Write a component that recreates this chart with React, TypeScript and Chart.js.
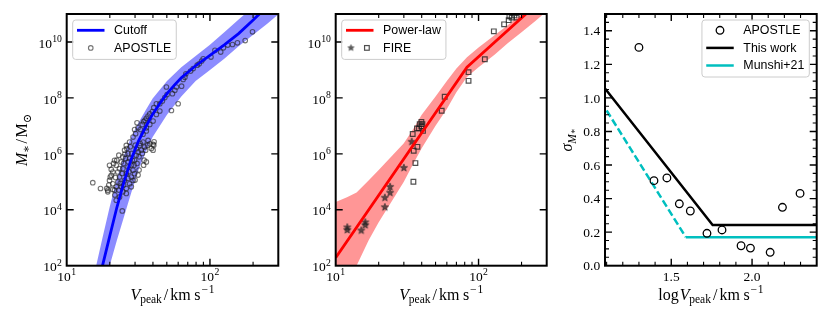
import React, { useEffect, useRef } from "react";
import { Chart, registerables } from "chart.js";

Chart.register(...registerables);

const W = 830;
const H = 323;
const SERIF = '"Liberation Serif", "DejaVu Serif", serif';
const SANS = '"Liberation Sans", "DejaVu Sans", sans-serif';

// ---------------- Panel 1 data (log10 values) ----------------
const cutoffLogV = [1.25, 1.3, 1.35, 1.4, 1.45, 1.5, 1.55, 1.6, 1.65, 1.7, 1.75, 1.8, 1.9, 2.0, 2.1, 2.2, 2.3, 2.4, 2.48];
const cutoffLogM = [2.0, 3.05, 4.08, 5.0, 5.8, 6.45, 6.95, 7.42, 7.8, 8.15, 8.45, 8.72, 9.15, 9.52, 9.9, 10.3, 10.78, 11.27, 11.65];

const cutoffBandLogV = [1.2, 1.21, 1.25, 1.3, 1.35, 1.4, 1.45, 1.5, 1.55, 1.6, 1.7, 1.8, 1.9, 2.0, 2.1, 2.2, 2.3, 2.4, 2.48];
const cutoffBandUpper = [1.85, 2.1, 3.0, 4.1, 5.1, 5.95, 6.6, 7.1, 7.55, 7.98, 8.6, 9.1, 9.5, 9.9, 10.35, 10.8, 11.25, 11.7, 12.05];
const cutoffBandLower = [0.0, 0.2, 0.9, 2.0, 2.9, 3.75, 4.6, 5.4, 6.05, 6.6, 7.4, 8.05, 8.6, 9.0, 9.4, 9.85, 10.25, 10.65, 11.0];

const apostleLogV = [
  2.297, 2.246, 2.192, 2.157, 2.124, 2.094, 2.075, 2.035, 2.007, 1.953, 1.942, 1.925, 1.911, 1.883, 1.865, 1.832, 1.825,
  1.813, 1.802, 1.766, 1.755, 1.738, 1.696, 1.701, 1.685, 1.668, 1.65, 1.626, 1.608, 1.598, 1.58, 1.568, 1.556, 1.547,
  1.537, 1.528, 1.778, 1.731, 1.491, 1.498, 1.474, 1.481, 1.463, 1.514, 1.556, 1.58, 1.626, 1.65, 1.603, 1.556, 1.533,
  1.182, 1.236, 1.287, 1.299, 1.299, 1.334, 1.346, 1.311, 1.322, 1.334, 1.346, 1.357, 1.369, 1.357, 1.369, 1.381, 1.392,
  1.404, 1.416, 1.428, 1.439, 1.451, 1.463, 1.451, 1.439, 1.416, 1.392, 1.369, 1.346, 1.388, 1.486, 1.509, 1.533, 1.556,
  1.58, 1.603, 1.474, 1.486, 1.498, 1.416, 1.392, 1.428, 1.404, 1.381, 1.463, 1.474, 1.521, 1.544, 1.568, 1.439, 1.411,
  1.322, 1.287, 1.304, 1.311, 1.327, 1.341, 1.35, 1.364, 1.374, 1.388, 1.397, 1.406, 1.42, 1.43, 1.435, 1.444, 1.453,
  1.458, 1.47, 1.479, 1.491, 1.505, 1.514, 1.528, 1.54, 1.551, 1.565, 1.591, 1.61, 1.537, 1.505, 1.477, 1.428, 1.397,
  1.364, 1.336, 1.322, 1.294, 1.28, 1.603, 1.608, 1.498, 1.451, 1.416,
];
const apostleLogM = [
  10.363, 10.05, 9.97, 9.91, 9.89, 9.79, 9.64, 9.7, 9.46, 9.4, 9.32, 9.22, 9.17, 9.05, 8.96, 8.86, 8.74,
  8.66, 8.42, 8.39, 8.27, 8.15, 8.39, 8.12, 8.01, 7.89, 7.79, 7.79, 7.65, 7.51, 7.43, 7.35, 7.27, 7.2,
  7.15, 7.05, 7.79, 7.55, 7.11, 6.93, 6.87, 6.72, 6.6, 6.87, 6.93, 7.05, 7.41, 7.53, 7.17, 6.82, 6.7,
  4.97, 4.76, 4.64, 5.05, 5.59, 5.77, 5.59, 5.23, 4.93, 4.7, 4.82, 4.99, 5.17, 5.35, 5.47, 5.71, 5.89,
  6.13, 6.3, 6.01, 5.83, 5.59, 5.41, 5.17, 4.93, 4.76, 4.64, 4.46, 4.34, 3.96, 6.18, 6.3, 6.42, 5.71,
  6.36, 6.34, 5.77, 5.95, 6.07, 5.29, 5.47, 5.53, 5.05, 4.82, 5.05, 5.29, 6.13, 6.24, 6.48, 6.42, 5.83,
  5.35, 4.7, 5.17, 5.441, 5.656, 5.156, 5.775, 5.953, 4.941, 5.298, 5.656, 5.989, 6.191, 5.715, 5.358, 6.251, 6.013,
  5.775, 5.596, 6.31, 5.656, 5.894, 6.37, 6.013, 5.775, 6.132, 6.31, 6.191, 6.429, 5.596, 5.418, 5.06, 5.12, 4.882,
  4.703, 4.525, 4.727, 4.882, 4.763, 6.132, 6.31, 5.239, 4.822, 4.584,
];

// ---------------- Panel 2 data (log10 values) ----------------
const powerLawLogV = [1.0, 1.919, 2.477];
const powerLawLogM = [2.29, 9.1, 11.67];

const plBandLogV = [1.0, 1.079, 1.146, 1.23, 1.301, 1.398, 1.477, 1.544, 1.602, 1.699, 1.778, 1.845, 1.919, 2.0, 2.114, 2.204, 2.301, 2.398, 2.477];
const plBandUpper = [4.28, 4.45, 4.62, 5.05, 5.42, 5.95, 6.38, 6.9, 7.4, 8.05, 8.6, 9.05, 9.45, 9.8, 10.25, 10.6, 11.0, 11.4, 11.8];
const plBandLower = [0.8, 1.4, 2.0, 2.9, 3.55, 4.35, 5.0, 5.65, 6.2, 7.0, 7.6, 8.2, 8.75, 9.1, 9.55, 9.95, 10.35, 10.75, 11.1];

const fireStarLogV = [1.081, 1.081, 1.179, 1.207, 1.207, 1.344, 1.344, 1.381, 1.381, 1.477, 1.532];
const fireStarLogM = [3.37, 3.275, 3.26, 3.55, 3.45, 4.09, 4.43, 4.61, 4.82, 5.5, 6.43];

const fireSquareLogV = [
  1.546, 1.572, 1.539, 1.583, 1.6, 1.588, 1.607, 1.611, 1.569, 1.6, 1.558, 1.544, 1.742, 1.763, 1.93, 1.93, 2.044,
  2.107, 2.179, 2.211, 2.216, 2.232, 2.267, 2.251,
];
const fireSquareLogM = [
  6.11, 6.25, 6.71, 6.91, 6.99, 7.06, 7.06, 6.82, 6.91, 7.14, 5.67, 5.0, 7.54, 8.04, 8.92, 8.61, 9.38,
  10.38, 10.63, 10.78, 10.92, 10.87, 10.87, 10.95,
];

// ---------------- Panel 3 data ----------------
const sigmaLogV = [1.3, 1.393, 1.473, 1.55, 1.618, 1.721, 1.814, 1.932, 1.99, 2.112, 2.188, 2.297];
const sigmaApostle = [1.301, 0.507, 0.523, 0.369, 0.326, 0.193, 0.213, 0.119, 0.105, 0.08, 0.348, 0.431];
const thisWorkX = [1.09, 1.756, 2.4];
const thisWorkY = [1.056, 0.2425, 0.2425];
const munshiDashX = [1.1, 1.59];
const munshiDashY = [0.925, 0.17];
const munshiFlatX = [1.59, 2.4];
const munshiFlatY = [0.17, 0.17];

// ---------------- Ticks ----------------
const logXMajor = [10, 100];
const logXMinor = [20, 30, 40, 50, 60, 70, 80, 90, 200];
const logYMajor = [1e2, 1e4, 1e6, 1e8, 1e10];
const sigXMajor = [1.5, 2.0];
const sigXMinor = [1.1, 1.2, 1.3, 1.4, 1.6, 1.7, 1.8, 1.9, 2.1, 2.2, 2.3, 2.4];
const sigYMajor = [0, 0.2, 0.4, 0.6, 0.8, 1.0, 1.2, 1.4];
const sigYMinor = [0.05, 0.1, 0.15, 0.25, 0.3, 0.35, 0.45, 0.5, 0.55, 0.65, 0.7, 0.75, 0.85, 0.9, 0.95, 1.05, 1.1, 1.15, 1.25, 1.3, 1.35, 1.45];

// ---------------- helpers ----------------
type Seg = { t: string; it?: boolean; s?: number; dy?: number; dx?: number; fam?: string };

const pts = (xs: number[], ys: number[], logX: boolean, logY: boolean) =>
  xs.map((x, i) => ({ x: logX ? Math.pow(10, x) : x, y: logY ? Math.pow(10, ys[i]) : ys[i] }));

function segFont(g: Seg, size: number) {
  return `${g.it ? "italic " : ""}${(size * (g.s ?? 1)).toFixed(2)}px ${g.fam ?? SERIF}`;
}
function richWidth(ctx: CanvasRenderingContext2D, segs: Seg[], size: number) {
  let w = 0;
  for (const g of segs) {
    ctx.font = segFont(g, size);
    w += (g.dx ?? 0) + ctx.measureText(g.t).width;
  }
  return w;
}
function drawRich(ctx: CanvasRenderingContext2D, segs: Seg[], x: number, y: number, size: number, align: string) {
  const w = richWidth(ctx, segs, size);
  let cx = align === "center" ? x - w / 2 : align === "right" ? x - w : x;
  ctx.textAlign = "left";
  ctx.textBaseline = "alphabetic";
  for (const g of segs) {
    ctx.font = segFont(g, size);
    cx += g.dx ?? 0;
    ctx.fillText(g.t, cx, y + (g.dy ?? 0) * size);
    cx += ctx.measureText(g.t).width;
  }
}

const logLabel = (v: number): Seg[] => [{ t: "10" }, { t: String(Math.round(Math.log10(v))), s: 0.72, dy: -0.4, dx: 0.3 }];
const linLabel = (v: number): Seg[] => [{ t: v.toFixed(1) }];

const vpeakSegs: Seg[] = [
  { t: "V", it: true },
  { t: "peak", s: 0.72, dy: 0.22, dx: -0.2 },
  { t: "/", dx: 2 },
  { t: "km", dx: 2 },
  { t: "s", dx: 3.6 },
  { t: "−", s: 0.72, dy: -0.42, dx: 0.8 },
  { t: "1", s: 0.72, dy: -0.42, dx: 0.8 },
];
const xTitle12: Seg[] = vpeakSegs;
const xTitle3: Seg[] = [{ t: "log" }, ...vpeakSegs.map((g, i) => (i === 0 ? { ...g, dx: 1 } : g))];
const yTitle1: Seg[] = [
  { t: "M", it: true },
  { t: "∗", s: 0.72, dy: 0.2 },
  { t: "/", dx: 1.5 },
  { t: "M", dx: 1.5 },
  { t: "⊙", s: 0.72, dy: 0.22 },
];
const yTitle3: Seg[] = [
  { t: "σ", it: true },
  { t: "M", it: true, s: 0.72, dy: 0.22 },
  { t: "∗", s: 0.55, dy: 0.28 },
];

function starImage(size: number, R: number, color: string) {
  const c = document.createElement("canvas");
  c.width = size;
  c.height = size;
  const g = c.getContext("2d")!;
  const cx = size / 2;
  const cy = size / 2;
  const r = R * 0.42;
  g.beginPath();
  for (let i = 0; i < 10; i++) {
    const ang = -Math.PI / 2 + (i * Math.PI) / 5;
    const rad = i % 2 === 0 ? R : r;
    g.lineTo(cx + rad * Math.cos(ang), cy + rad * Math.sin(ang));
  }
  g.closePath();
  g.fillStyle = color;
  g.fill();
  g.strokeStyle = color;
  g.lineWidth = 0.8;
  g.stroke();
  return c;
}

const APOSTLE_EDGE = "rgba(30,30,30,0.62)";
const FIRE_EDGE = "rgba(30,30,30,0.78)";
const STAR_COLOR = "rgba(35,35,35,0.72)";

type Marker = { kind: string; f: number; r: number; color: string; lw: number; img?: HTMLCanvasElement };
type LegendRow = { label: string; line?: { color: string; width: number; dash?: number[] }; markers?: Marker[] };
type Legend = { side: string; rows: LegendRow[] };

function drawLegend(ctx: CanvasRenderingContext2D, a: any, lg: Legend) {
  const fontSize = 12.4;
  ctx.font = `${fontSize}px ${SANS}`;
  let tw = 0;
  for (const r of lg.rows) tw = Math.max(tw, ctx.measureText(r.label).width);
  const padL = 4.3;
  const handle = 27.5;
  const gap = 9.6;
  const padR = 5;
  const bw = padL + handle + gap + tw + padR;
  const rowStep = 17.6;
  const bh = 10.3 + (lg.rows.length - 1) * rowStep + 11.5;
  const top = a.top + 6;
  const left = lg.side === "left" ? a.left + 6 : a.right - 7.4 - bw;
  const rad = 3;
  ctx.beginPath();
  ctx.moveTo(left + rad, top);
  ctx.lineTo(left + bw - rad, top);
  ctx.arcTo(left + bw, top, left + bw, top + rad, rad);
  ctx.lineTo(left + bw, top + bh - rad);
  ctx.arcTo(left + bw, top + bh, left + bw - rad, top + bh, rad);
  ctx.lineTo(left + rad, top + bh);
  ctx.arcTo(left, top + bh, left, top + bh - rad, rad);
  ctx.lineTo(left, top + rad);
  ctx.arcTo(left, top, left + rad, top, rad);
  ctx.closePath();
  ctx.fillStyle = "rgba(255,255,255,0.8)";
  ctx.fill();
  ctx.strokeStyle = "#cccccc";
  ctx.lineWidth = 1;
  ctx.stroke();

  lg.rows.forEach((row, i) => {
    const y = top + 10.3 + i * rowStep;
    const hx = left + padL;
    if (row.line) {
      ctx.save();
      ctx.strokeStyle = row.line.color;
      ctx.lineWidth = row.line.width;
      ctx.setLineDash(row.line.dash ?? []);
      ctx.beginPath();
      ctx.moveTo(hx, y);
      ctx.lineTo(hx + handle, y);
      ctx.stroke();
      ctx.restore();
    }
    for (const m of row.markers ?? []) {
      const mx = hx + m.f * handle;
      ctx.save();
      ctx.strokeStyle = m.color;
      ctx.lineWidth = m.lw;
      if (m.kind === "circle") {
        ctx.beginPath();
        ctx.arc(mx, y, m.r, 0, Math.PI * 2);
        ctx.stroke();
      } else if (m.kind === "rect") {
        const s = m.r * Math.SQRT1_2;
        ctx.strokeRect(mx - s, y - s, 2 * s, 2 * s);
      } else if (m.kind === "star" && m.img) {
        ctx.drawImage(m.img, mx - m.img.width / 2, y - m.img.height / 2);
      }
      ctx.restore();
    }
    ctx.fillStyle = "#000";
    ctx.font = `${fontSize}px ${SANS}`;
    ctx.textAlign = "left";
    ctx.textBaseline = "middle";
    ctx.fillText(row.label, hx + handle + gap, y + 0.5);
  });
}

type Decor = {
  xMajor: number[];
  xMinor: number[];
  yMajor: number[];
  yMinor: number[];
  label: (v: number) => Seg[];
  yLabelDy: number;
  xTitle: Seg[];
  yTitle: Seg[];
  yTitleX: number;
  legend: Legend;
};

const TITLE_SIZE = 16;

function decorPlugin(d: Decor) {
  return {
    id: "decor",
    afterDraw(chart: any) {
      const ctx: CanvasRenderingContext2D = chart.ctx;
      const a = chart.chartArea;
      const xs = chart.scales.x;
      const ys = chart.scales.y;
      ctx.save();
      ctx.strokeStyle = "#000";
      ctx.lineCap = "butt";
      const vt = (v: number, len: number, lw: number) => {
        const p = xs.getPixelForValue(v);
        if (p < a.left + 0.5 || p > a.right - 0.5) return;
        ctx.lineWidth = lw;
        ctx.beginPath();
        ctx.moveTo(p, a.bottom);
        ctx.lineTo(p, a.bottom - len);
        ctx.moveTo(p, a.top);
        ctx.lineTo(p, a.top + len);
        ctx.stroke();
      };
      const ht = (v: number, len: number, lw: number) => {
        const p = ys.getPixelForValue(v);
        if (p < a.top + 0.5 || p > a.bottom - 0.5) return;
        ctx.lineWidth = lw;
        ctx.beginPath();
        ctx.moveTo(a.left, p);
        ctx.lineTo(a.left + len, p);
        ctx.moveTo(a.right, p);
        ctx.lineTo(a.right - len, p);
        ctx.stroke();
      };
      d.xMajor.forEach((v) => vt(v, 7, 1.4));
      d.xMinor.forEach((v) => vt(v, 4, 1.1));
      d.yMajor.forEach((v) => ht(v, 7, 1.4));
      d.yMinor.forEach((v) => ht(v, 4, 1.1));
      ctx.lineWidth = 2;
      ctx.strokeRect(a.left, a.top, a.right - a.left, a.bottom - a.top);

      ctx.fillStyle = "#000";
      d.xMajor.forEach((v) => {
        const p = xs.getPixelForValue(v);
        drawRich(ctx, d.label(v), p, a.bottom + 15, 13.5, "center");
      });
      d.yMajor.forEach((v) => {
        const p = ys.getPixelForValue(v);
        drawRich(ctx, d.label(v), a.left - 4.8, p + d.yLabelDy, 13.5, "right");
      });
      drawRich(ctx, d.xTitle, (a.left + a.right) / 2, a.bottom + 33.8, TITLE_SIZE, "center");
      ctx.save();
      ctx.translate(d.yTitleX, (a.top + a.bottom) / 2);
      ctx.rotate(-Math.PI / 2);
      drawRich(ctx, d.yTitle, 0, 0, TITLE_SIZE, "center");
      ctx.restore();

      drawLegend(ctx, a, d.legend);
      ctx.restore();
    },
  };
}

type Area = { left: number; top: number; right: number; bottom: number };

function buildChart(canvas: HTMLCanvasElement, area: Area, xScale: any, yScale: any, datasets: any[], decor: Decor) {
  return new Chart(canvas, {
    type: "line",
    data: { datasets },
    options: {
      responsive: false,
      animation: false,
      devicePixelRatio: 1,
      events: [],
      layout: {
        autoPadding: false,
        padding: { left: area.left, top: area.top, right: W - area.right, bottom: H - area.bottom },
      },
      elements: { line: { tension: 0 } },
      scales: {
        x: { ...xScale, display: false },
        y: { ...yScale, display: false },
      },
      plugins: { legend: { display: false }, tooltip: { enabled: false } },
    } as any,
    plugins: [decorPlugin(decor) as any],
  });
}

const AREA1: Area = { left: 66.7, top: 14, right: 278.3, bottom: 265.7 };
const AREA2: Area = { left: 335.7, top: 14, right: 546.7, bottom: 265.7 };
const AREA3: Area = { left: 605, top: 14, right: 816.7, bottom: 265.7 };

const LOG_X = { type: "logarithmic", min: 10, max: 300 };
const LOG_Y = { type: "logarithmic", min: 1e2, max: 1e11 };

function buildPanel1(canvas: HTMLCanvasElement) {
  const datasets = [
    { label: "Cutoff", data: pts(cutoffLogV, cutoffLogM, true, true), borderColor: "#0000ff", borderWidth: 2.8, pointRadius: 0, fill: false, clip: 0 },
    {
      label: "APOSTLE",
      data: pts(apostleLogV, apostleLogM, true, true),
      showLine: false,
      pointStyle: "circle",
      pointRadius: 2.3,
      pointBorderWidth: 1.1,
      pointBorderColor: APOSTLE_EDGE,
      pointBackgroundColor: "rgba(0,0,0,0)",
      clip: 0,
    },
    { label: "band+", data: pts(cutoffBandLogV, cutoffBandUpper, true, true), borderColor: "rgba(0,0,0,0)", borderWidth: 0, pointRadius: 0, fill: "+1", backgroundColor: "rgba(0,0,255,0.45)", clip: 0 },
    { label: "band-", data: pts(cutoffBandLogV, cutoffBandLower, true, true), borderColor: "rgba(0,0,0,0)", borderWidth: 0, pointRadius: 0, fill: false, clip: 0 },
  ];
  return buildChart(canvas, AREA1, LOG_X, LOG_Y, datasets, {
    xMajor: logXMajor,
    xMinor: logXMinor,
    yMajor: logYMajor,
    yMinor: [],
    label: logLabel,
    yLabelDy: 5.7,
    xTitle: xTitle12,
    yTitle: yTitle1,
    yTitleX: 27,
    legend: {
      side: "left",
      rows: [
        { label: "Cutoff", line: { color: "#0000ff", width: 2.8 } },
        { label: "APOSTLE", markers: [{ kind: "circle", f: 0.5, r: 2.3, color: APOSTLE_EDGE, lw: 1.1 }] },
      ],
    },
  });
}

function buildPanel2(canvas: HTMLCanvasElement) {
  const star = starImage(10, 3.9, STAR_COLOR);
  const legendStar = starImage(9, 3.2, STAR_COLOR);
  const datasets = [
    { label: "Power-law", data: pts(powerLawLogV, powerLawLogM, true, true), borderColor: "#ff0000", borderWidth: 2.8, pointRadius: 0, fill: false, clip: 0 },
    {
      label: "FIRE squares",
      data: pts(fireSquareLogV, fireSquareLogM, true, true),
      showLine: false,
      pointStyle: "rect",
      pointRadius: 3.3,
      pointBorderWidth: 1.2,
      pointBorderColor: FIRE_EDGE,
      pointBackgroundColor: "rgba(0,0,0,0)",
      clip: 0,
    },
    {
      label: "FIRE stars",
      data: pts(fireStarLogV, fireStarLogM, true, true),
      showLine: false,
      pointStyle: star,
      pointRadius: 3.9,
      clip: 0,
    },
    { label: "band+", data: pts(plBandLogV, plBandUpper, true, true), borderColor: "rgba(0,0,0,0)", borderWidth: 0, pointRadius: 0, fill: "+1", backgroundColor: "rgba(255,0,0,0.41)", clip: 0 },
    { label: "band-", data: pts(plBandLogV, plBandLower, true, true), borderColor: "rgba(0,0,0,0)", borderWidth: 0, pointRadius: 0, fill: false, clip: 0 },
  ];
  return buildChart(canvas, AREA2, LOG_X, LOG_Y, datasets, {
    xMajor: logXMajor,
    xMinor: logXMinor,
    yMajor: logYMajor,
    yMinor: [],
    label: logLabel,
    yLabelDy: 5.7,
    xTitle: xTitle12,
    yTitle: [],
    yTitleX: 0,
    legend: {
      side: "left",
      rows: [
        { label: "Power-law", line: { color: "#ff0000", width: 2.8 } },
        {
          label: "FIRE",
          markers: [
            { kind: "star", f: 0.18, r: 3.2, color: STAR_COLOR, lw: 1, img: legendStar },
            { kind: "rect", f: 0.76, r: 3.3, color: FIRE_EDGE, lw: 1.2 },
          ],
        },
      ],
    },
  });
}

function buildPanel3(canvas: HTMLCanvasElement) {
  const datasets = [
    {
      label: "APOSTLE",
      data: pts(sigmaLogV, sigmaApostle, false, false),
      showLine: false,
      pointStyle: "circle",
      pointRadius: 3.8,
      pointBorderWidth: 1.3,
      pointBorderColor: "#000",
      pointBackgroundColor: "rgba(0,0,0,0)",
      clip: 0,
    },
    { label: "This work", data: pts(thisWorkX, thisWorkY, false, false), borderColor: "#000", borderWidth: 2.5, pointRadius: 0, fill: false, clip: 0 },
    { label: "Munshi+21", data: pts(munshiFlatX, munshiFlatY, false, false), borderColor: "#00bfbf", borderWidth: 2.5, pointRadius: 0, fill: false, clip: 0 },
    { label: "Munshi+21 dashed", data: pts(munshiDashX, munshiDashY, false, false), borderColor: "#00bfbf", borderWidth: 2.5, borderDash: [7.4, 3.2], pointRadius: 0, fill: false, clip: 0 },
  ];
  return buildChart(canvas, AREA3, { type: "linear", min: 1.09, max: 2.4 }, { type: "linear", min: 0, max: 1.5 }, datasets, {
    xMajor: sigXMajor,
    xMinor: sigXMinor,
    yMajor: sigYMajor,
    yMinor: sigYMinor,
    label: linLabel,
    yLabelDy: 4.6,
    xTitle: xTitle3,
    yTitle: yTitle3,
    yTitleX: 572,
    legend: {
      side: "right",
      rows: [
        { label: "APOSTLE", markers: [{ kind: "circle", f: 0.5, r: 3.8, color: "#000", lw: 1.3 }] },
        { label: "This work", line: { color: "#000", width: 2.5 } },
        { label: "Munshi+21", line: { color: "#00bfbf", width: 2.5 } },
      ],
    },
  });
}

function ChartCanvas({ build }: { build: (c: HTMLCanvasElement) => Chart }) {
  const ref = useRef<HTMLCanvasElement>(null);
  useEffect(() => {
    if (!ref.current) return;
    const ch = build(ref.current);
    return () => ch.destroy();
  }, [build]);
  return (
    <canvas
      ref={ref}
      width={W}
      height={H}
      style={{ position: "absolute", left: 0, top: 0, width: W, height: H }}
    />
  );
}

export default function App() {
  return (
    <div style={{ position: "absolute", left: 0, top: 0, width: W, height: H, background: "#ffffff", overflow: "hidden" }}>
      <ChartCanvas build={buildPanel1} />
      <ChartCanvas build={buildPanel2} />
      <ChartCanvas build={buildPanel3} />
    </div>
  );
}
